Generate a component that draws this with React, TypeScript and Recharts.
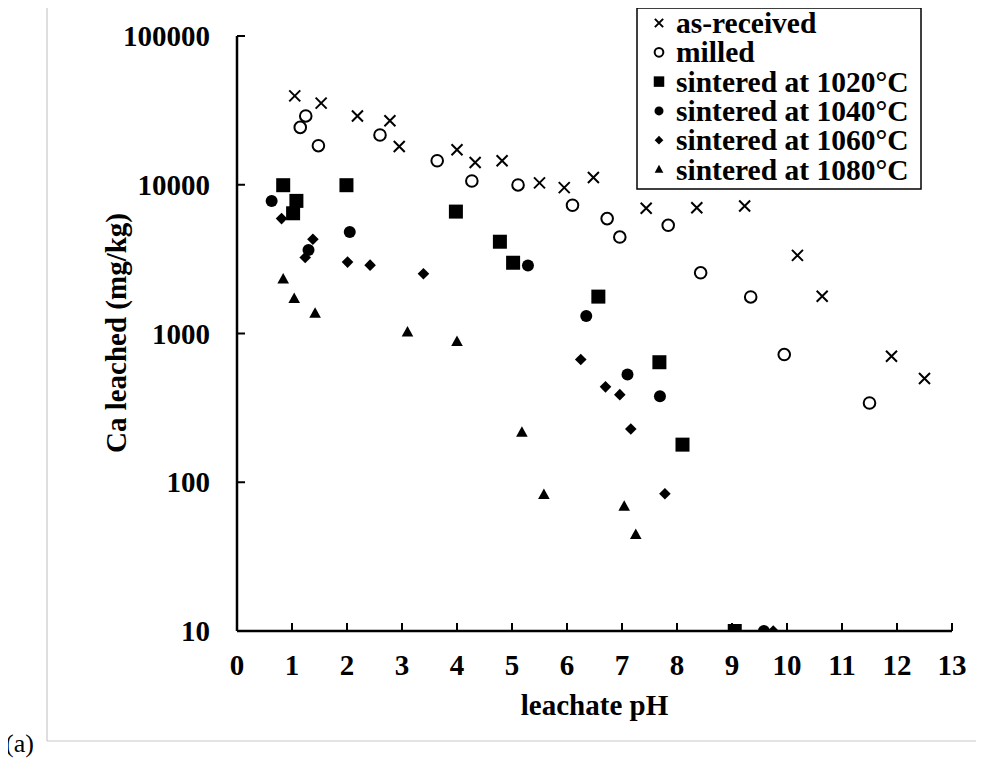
import React from 'react';
import { ScatterChart, Scatter, XAxis, YAxis, Legend } from 'recharts';

const FONT = '"Liberation Serif", "Times New Roman", serif';

// axis ticks
const phTicks = [0, 1, 2, 3, 4, 5, 6, 7, 8, 9, 10, 11, 12, 13];
const caTicks = [10, 100, 1000, 10000, 100000];

// as-received
const asReceivedPH = [1.05, 1.53, 2.19, 2.78, 2.95, 4.0, 4.33, 4.82, 5.5, 5.95, 6.48, 7.44, 8.36, 9.23, 10.19, 10.64, 11.9, 12.5];
const asReceivedCa = [39600, 35400, 29000, 26900, 18100, 17200, 14100, 14500, 10300, 9570, 11200, 6950, 7000, 7200, 3350, 1780, 703, 498];

// milled
const milledPH = [1.15, 1.25, 1.48, 2.6, 3.64, 4.27, 5.11, 6.1, 6.73, 6.96, 7.84, 8.43, 9.34, 9.95, 11.5];
const milledCa = [24300, 29000, 18300, 21600, 14500, 10600, 9970, 7280, 5920, 4450, 5340, 2560, 1760, 722, 341];

// sintered at 1020°C
const s1020PH = [0.84, 1.08, 1.02, 1.99, 3.98, 4.78, 5.02, 6.57, 7.68, 8.1, 9.05];
const s1020Ca = [9930, 7790, 6430, 9930, 6600, 4140, 2990, 1770, 641, 179, 10];

// sintered at 1040°C
const s1040PH = [0.63, 1.3, 2.05, 5.29, 6.35, 7.1, 7.69, 9.58];
const s1040Ca = [7790, 3640, 4810, 2870, 1310, 530, 378, 10];

// sintered at 1060°C
const s1060PH = [0.81, 1.38, 1.24, 2.01, 2.42, 3.39, 6.25, 6.7, 6.96, 7.16, 7.78, 9.75];
const s1060Ca = [5920, 4300, 3240, 3020, 2880, 2520, 668, 438, 388, 228, 83.7, 10];

// sintered at 1080°C
const s1080PH = [0.84, 1.04, 1.42, 3.1, 4.0, 5.18, 5.58, 7.04, 7.25];
const s1080Ca = [2310, 1710, 1360, 1020, 879, 216, 82.4, 68.7, 44.3];

const toPoints = (ph: number[], ca: number[]) => ph.map((x, i) => ({ ph: x, ca: ca[i] }));

type Kind = 'cross' | 'ring' | 'square' | 'dot' | 'diamond' | 'triangle';

function Marker({ kind, cx, cy, k = 1 }: { kind: Kind; cx: number; cy: number; k?: number }) {
  switch (kind) {
    case 'cross': {
      const a = 5.5 * k;
      return (
        <path
          d={`M${cx - a},${cy - a}L${cx + a},${cy + a}M${cx + a},${cy - a}L${cx - a},${cy + a}`}
          stroke="#000"
          strokeWidth={2}
          fill="none"
        />
      );
    }
    case 'ring':
      return <circle cx={cx} cy={cy} r={5.8 * k} stroke="#000" strokeWidth={2} fill="#fff" />;
    case 'square': {
      const a = 7 * k;
      return <rect x={cx - a} y={cy - a} width={2 * a} height={2 * a} fill="#000" />;
    }
    case 'dot':
      return <circle cx={cx} cy={cy} r={6 * k} fill="#000" />;
    case 'diamond': {
      const a = 5.8 * k;
      return <path d={`M${cx},${cy - a}L${cx + a},${cy}L${cx},${cy + a}L${cx - a},${cy}Z`} fill="#000" />;
    }
    default: {
      const w = 5.8 * k;
      const h = 10.5 * k;
      return <path d={`M${cx},${cy - h * 0.6}L${cx + w},${cy + h * 0.4}L${cx - w},${cy + h * 0.4}Z`} fill="#000" />;
    }
  }
}

const series: { name: string; kind: Kind; data: { ph: number; ca: number }[] }[] = [
  { name: 'as-received', kind: 'cross', data: toPoints(asReceivedPH, asReceivedCa) },
  { name: 'milled', kind: 'ring', data: toPoints(milledPH, milledCa) },
  { name: 'sintered at 1020°C', kind: 'square', data: toPoints(s1020PH, s1020Ca) },
  { name: 'sintered at 1040°C', kind: 'dot', data: toPoints(s1040PH, s1040Ca) },
  { name: 'sintered at 1060°C', kind: 'diamond', data: toPoints(s1060PH, s1060Ca) },
  { name: 'sintered at 1080°C', kind: 'triangle', data: toPoints(s1080PH, s1080Ca) },
];

const XTick = ({ x, y, payload }: any) => (
  <g>
    <line x1={x} y1={y} x2={x} y2={y - 8} stroke="#000" strokeWidth={2} />
    <text x={x} y={y + 44} textAnchor="middle" fontFamily={FONT} fontWeight="bold" fontSize={29} fill="#000">
      {payload.value}
    </text>
  </g>
);

const YTick = ({ x, y, payload }: any) => (
  <g>
    <line x1={x} y1={y} x2={x + 8} y2={y} stroke="#000" strokeWidth={2} />
    <text x={x - 27} y={y + 10} textAnchor="end" fontFamily={FONT} fontWeight="bold" fontSize={29} fill="#000">
      {payload.value}
    </text>
  </g>
);

const LegendBox = () => (
  <svg width={286} height={183} style={{ display: 'block' }}>
    <rect x={1} y={1} width={284} height={181} fill="#fff" stroke="#000" strokeWidth={1.5} />
    {series.map((s, i) => {
      const cy = 16 + i * 29.3;
      return (
        <g key={s.name}>
          <Marker kind={s.kind} cx={23} cy={cy} k={0.75} />
          <text x={40} y={cy + 10} fontFamily={FONT} fontWeight="bold" fontSize={29.5} fill="#000">
            {s.name}
          </text>
        </g>
      );
    })}
  </svg>
);

export default function App() {
  return (
    <div style={{ position: 'relative', width: 984, height: 767, margin: -8, background: '#fff', fontFamily: FONT }}>
      <svg width={984} height={767} style={{ position: 'absolute', left: 0, top: 0 }}>
        <line x1={47} y1={7} x2={47} y2={741} stroke="#c8c8c8" strokeWidth={1.2} />
        <line x1={47} y1={741} x2={984} y2={741} stroke="#c8c8c8" strokeWidth={1.2} />
        <text x={5} y={752} fontFamily={FONT} fontSize={26} fill="#000">
          (a)
        </text>
        <text x={594.5} y={715} textAnchor="middle" fontFamily={FONT} fontWeight="bold" fontSize={29} fill="#000">
          leachate pH
        </text>
        <text
          x={126}
          y={333}
          transform="rotate(-90, 126, 333)"
          textAnchor="middle"
          fontFamily={FONT}
          fontWeight="bold"
          fontSize={29}
          fill="#000"
        >
          Ca leached (mg/kg)
        </text>
      </svg>
      <div style={{ position: 'absolute', left: 0, top: 0 }}>
        <ScatterChart width={984} height={767} margin={{ top: 36, right: 32, bottom: 76, left: 0 }}>
          <XAxis
            type="number"
            dataKey="ph"
            domain={[0, 13]}
            ticks={phTicks}
            interval={0}
            allowDataOverflow
            height={60}
            tickSize={0}
            tickMargin={0}
            tickLine={false}
            axisLine={{ stroke: '#000', strokeWidth: 2.5 }}
            tick={<XTick />}
          />
          <YAxis
            type="number"
            dataKey="ca"
            scale="log"
            domain={[10, 100000]}
            ticks={caTicks}
            interval={0}
            allowDataOverflow
            width={237}
            tickSize={0}
            tickMargin={0}
            tickLine={false}
            axisLine={{ stroke: '#000', strokeWidth: 2.5 }}
            tick={<YTick />}
          />
          <Legend
            layout="horizontal"
            verticalAlign="middle"
            align="center"
            content={() => <LegendBox />}
            wrapperStyle={{ position: 'absolute', left: 636, top: 7, width: 286, height: 183 }}
          />
          {series.map((s) => (
            <Scatter
              key={s.name}
              name={s.name}
              data={s.data}
              isAnimationActive={false}
              shape={(p: any) => <Marker kind={s.kind} cx={p.cx} cy={p.cy} />}
            />
          ))}
        </ScatterChart>
      </div>
    </div>
  );
}
